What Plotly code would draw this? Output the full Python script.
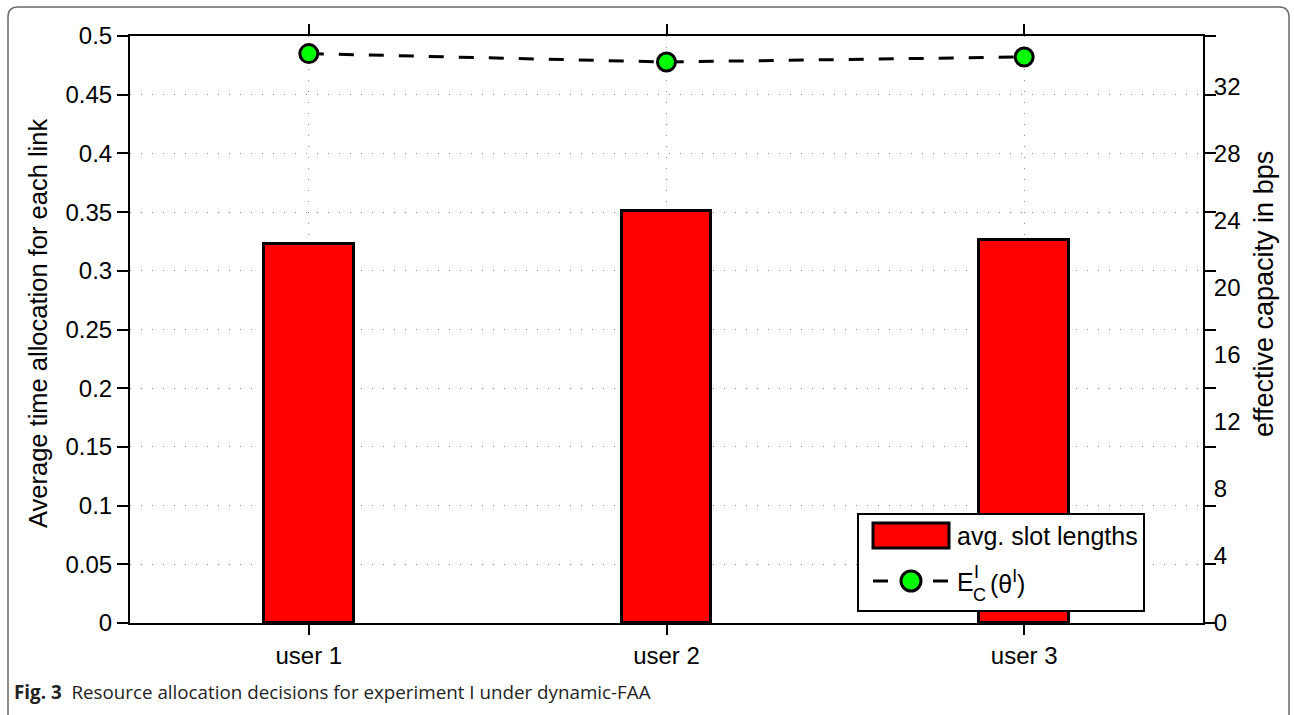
import plotly.graph_objects as go

# ---- data ----
users = ["user 1", "user 2", "user 3"]
slot_lengths = [0.323, 0.351, 0.326]          # avg. slot lengths (left axis)
eff_capacity = [33.95, 33.45, 33.75]          # effective capacity in bps (right axis)
left_ticks = [0, 0.05, 0.1, 0.15, 0.2, 0.25, 0.3, 0.35, 0.4, 0.45, 0.5]
right_ticks = [0, 4, 8, 12, 16, 20, 24, 28, 32]

W_FIG, H_FIG = 1294, 715
PL, PR, PT, PB = 130, 1203, 36, 623
PW, PH = PR - PL, PB - PT


def px(x):
    return (x - PL) / PW


def py(y):
    return (PB - y) / PH


FONT = "Liberation Sans, Arial, Helvetica, sans-serif"
TICK = 24

fig = go.Figure()

fig.add_trace(go.Bar(
    x=users, y=slot_lengths, width=0.25,
    marker=dict(color="#ff0000", line=dict(color="black", width=3)),
    showlegend=False,
))

fig.add_trace(go.Scatter(
    x=users, y=eff_capacity, yaxis="y2", mode="lines+markers",
    line=dict(color="black", width=3, dash="15px,15px"),
    marker=dict(size=18, color="#00ff00", line=dict(color="black", width=3)),
    showlegend=False, cliponaxis=False,
))

grid = dict(showgrid=True, gridcolor="#8a8a8a", gridwidth=1, griddash="1px,10px")

fig.update_layout(
    width=W_FIG, height=H_FIG,
    margin=dict(l=PL, r=W_FIG - PR, t=PT, b=H_FIG - PB, pad=0),
    paper_bgcolor="white", plot_bgcolor="white",
    font=dict(family=FONT, size=TICK, color="black"),
    bargap=0,
    xaxis=dict(
        type="category", range=[-0.5, 2.5], **grid,
        showline=True, linecolor="black", linewidth=2, mirror="ticks",
        ticks="outside", ticklen=10, tickwidth=2, tickcolor="black",
        zeroline=False, tickfont=dict(size=TICK),
    ),
    yaxis=dict(
        range=[0, 0.5], tickvals=left_ticks, **grid,
        showline=True, linecolor="black", linewidth=2, mirror="ticks",
        ticks="outside", ticklen=11, tickwidth=2, tickcolor="black",
        zeroline=False, tickfont=dict(size=TICK),
    ),
    yaxis2=dict(
        range=[0, 35], tickvals=right_ticks, overlaying="y", side="right",
        showgrid=False, showline=False, zeroline=False,
        ticks="outside", ticklen=5, tickcolor="rgba(0,0,0,0)",
        tickfont=dict(size=TICK),
    ),
)

shapes = []
annotations = []

# rounded frame around the figure
x0, x1, top, bot, r = 8, 1289, 7, 740, 10
path = (f"M {px(x0 + r)},{py(top)} L {px(x1 - r)},{py(top)} "
        f"Q {px(x1)},{py(top)} {px(x1)},{py(top + r)} "
        f"L {px(x1)},{py(bot)} L {px(x0)},{py(bot)} L {px(x0)},{py(top + r)} "
        f"Q {px(x0)},{py(top)} {px(x0 + r)},{py(top)} Z")
shapes.append(dict(type="path", xref="paper", yref="paper", path=path,
                   line=dict(color="#6a6a6a", width=1.5), layer="below"))

# legend box
shapes.append(dict(type="rect", xref="paper", yref="paper",
                   x0=px(858), x1=px(1144), y0=py(611), y1=py(514),
                   fillcolor="white", line=dict(color="black", width=2)))
shapes.append(dict(type="rect", xref="paper", yref="paper",
                   x0=px(873), x1=px(949), y0=py(548), y1=py(523),
                   fillcolor="#ff0000", line=dict(color="black", width=3)))
for a, b in [(873, 888), (933, 948)]:
    shapes.append(dict(type="line", xref="paper", yref="paper",
                       x0=px(a), x1=px(b), y0=py(581), y1=py(581),
                       line=dict(color="black", width=3)))
shapes.append(dict(type="circle", xref="paper", yref="paper",
                   x0=px(901), x1=px(921), y0=py(591), y1=py(571),
                   fillcolor="#00ff00", line=dict(color="black", width=3)))


def label(x, y, text, size, **kw):
    d = dict(xref="paper", yref="paper", x=px(x), y=py(y),
             xanchor="left", yanchor="middle", showarrow=False,
             text=text, font=dict(size=size))
    d.update(kw)
    annotations.append(d)


label(955, 536, "avg. slot lengths", 25)
label(955, 582, "E", 25)
label(972, 572, "I", 18)
label(971, 595, "C", 18)
label(988, 582, "(θ<sup>I</sup>)", 25)

# axis titles
label(38, 324, "Average time allocation for each link", 25.5,
      xanchor="center", textangle=-90)
label(1264, 294, "effective capacity in bps", 27,
      xanchor="center", textangle=-90)

# caption
label(12, 692,
      "<b>Fig. 3</b>  Resource allocation decisions for experiment I under dynamic-FAA",
      18.8, font=dict(family="Open Sans, Noto Sans, sans-serif", size=18.8, color="#222"))

fig.update_layout(shapes=shapes, annotations=annotations)

fig.write_html("out.html")
